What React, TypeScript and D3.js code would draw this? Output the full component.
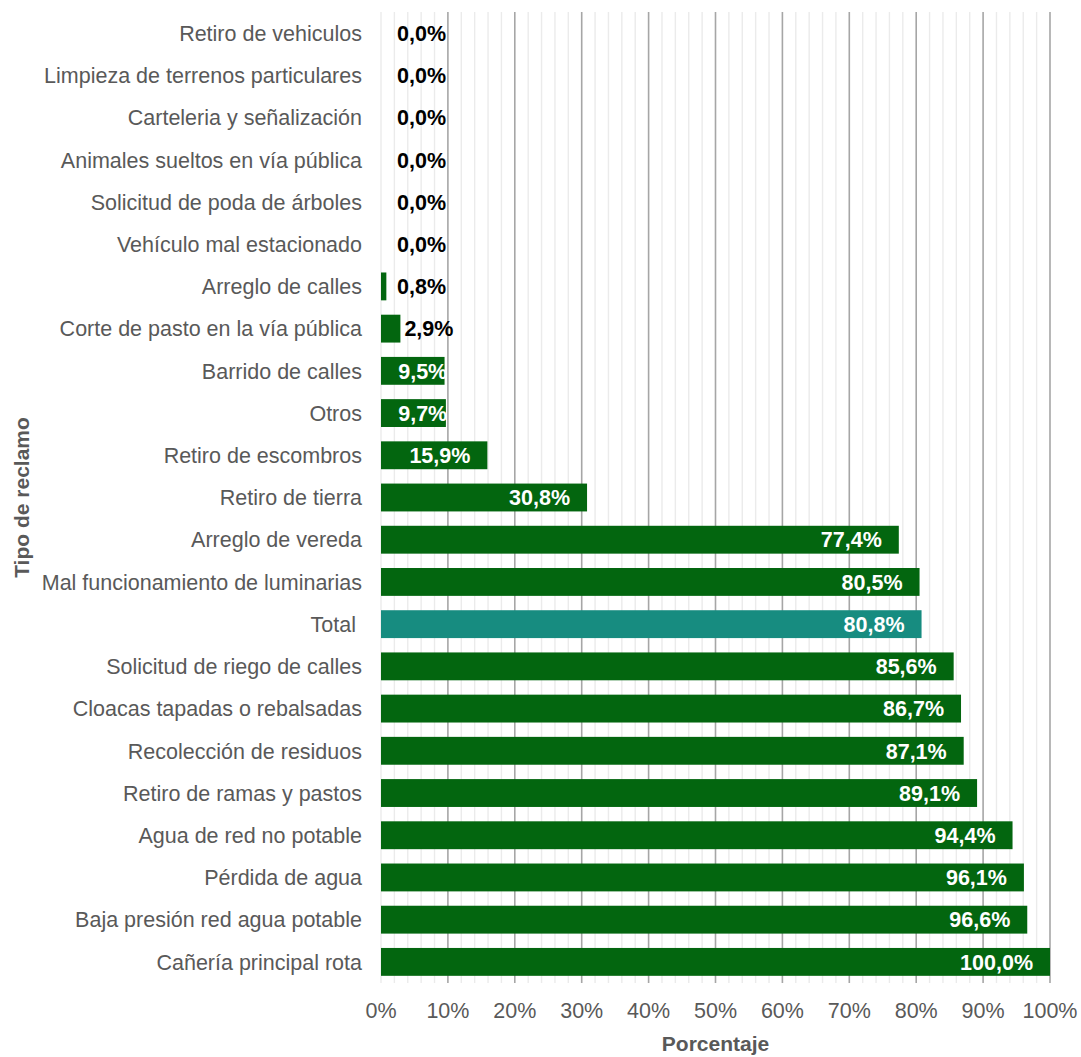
import React from "react";
import * as d3 from "d3";

const categories = [
  "Retiro de vehiculos",
  "Limpieza de terrenos particulares",
  "Carteleria y señalización",
  "Animales sueltos en vía pública",
  "Solicitud de poda de árboles",
  "Vehículo mal estacionado",
  "Arreglo de calles",
  "Corte de pasto en la vía pública",
  "Barrido de calles",
  "Otros",
  "Retiro de escombros",
  "Retiro de tierra",
  "Arreglo de vereda",
  "Mal funcionamiento de luminarias",
  "Total ",
  "Solicitud de riego de calles",
  "Cloacas tapadas o rebalsadas",
  "Recolección de residuos",
  "Retiro de ramas y pastos",
  "Agua de red no potable",
  "Pérdida de agua",
  "Baja presión red agua potable",
  "Cañería principal rota",
];

const values = [
  0.0, 0.0, 0.0, 0.0, 0.0, 0.0, 0.8, 2.9, 9.5, 9.7, 15.9, 30.8, 77.4, 80.5,
  80.8, 85.6, 86.7, 87.1, 89.1, 94.4, 96.1, 96.6, 100.0,
];

const xTicks = [0, 10, 20, 30, 40, 50, 60, 70, 80, 90, 100];
const minorTicks = d3.range(0, 101, 2);

const xTitle = "Porcentaje";
const yTitle = "Tipo de reclamo";

const W = 1081;
const H = 1057;
const M = { left: 381, right: 31, top: 12, bottom: 74 };
const FONT = "'Liberation Sans', Arial, Helvetica, sans-serif";
const GREEN = "#03660f";
const TEAL = "#178c80";
const TEXT = "#595959";

export default function App() {
  const x = d3.scaleLinear().domain([0, 100]).range([M.left, W - M.right]);
  const y = d3
    .scaleBand<string>()
    .domain(categories)
    .range([M.top, H - M.bottom])
    .paddingInner(0.34)
    .paddingOuter(0.17);
  const fmt = (v: number) => v.toFixed(1).replace(".", ",") + "%";
  const x0 = x(0);
  const plotBottom = H - M.bottom;

  return (
    <svg
      width={W}
      height={H}
      style={{ position: "absolute", left: 0, top: 0, background: "#fff" }}
      fontFamily={FONT}
    >
      {/* minor grid */}
      {minorTicks
        .filter((t) => t % 10 !== 0 || t === 0)
        .map((t) => (
          <line
            key={"m" + t}
            x1={x(t)}
            x2={x(t)}
            y1={M.top}
            y2={plotBottom}
            stroke="#ebebeb"
            strokeWidth={1.4}
          />
        ))}
      {/* major grid */}
      {xTicks
        .filter((t) => t !== 0)
        .map((t) => (
          <line
            key={"M" + t}
            x1={x(t)}
            x2={x(t)}
            y1={M.top}
            y2={plotBottom}
            stroke="#a6a6a6"
            strokeWidth={1.6}
          />
        ))}
      {/* bars */}
      {categories.map((c, i) => (
        <rect
          key={"b" + c}
          x={x0}
          y={y(c)!}
          width={x(values[i]) - x0}
          height={y.bandwidth()}
          fill={c.trim() === "Total" ? TEAL : GREEN}
        />
      ))}
      {/* value labels */}
      {categories.map((c, i) => {
        const v = values[i];
        const cy = y(c)! + y.bandwidth() / 2;
        const inside = v >= 5;
        const lx = inside
          ? Math.max(x(v) - 17, x(9.9))
          : Math.max(x(v) + 4, x(0) + 16);
        return (
          <text
            key={"l" + c}
            x={lx}
            y={cy}
            dy="0.36em"
            textAnchor={inside ? "end" : "start"}
            fontWeight="bold"
            fontSize={21.5}
            fill={inside ? "#ffffff" : "#000000"}
          >
            {fmt(v)}
          </text>
        );
      })}
      {/* category labels */}
      {categories.map((c) => (
        <text
          key={"c" + c}
          x={x0 - 19}
          y={y(c)! + y.bandwidth() / 2}
          dy="0.36em"
          textAnchor="end"
          fontSize={21.5}
          fill={TEXT}
          style={{ whiteSpace: "pre" }}
        >
          {c}
        </text>
      ))}
      {/* x tick labels */}
      {xTicks.map((t) => (
        <text
          key={"t" + t}
          x={x(t)}
          y={1018}
          textAnchor="middle"
          fontSize={21.5}
          fill={TEXT}
        >
          {t + "%"}
        </text>
      ))}
      {/* axis titles */}
      <text
        x={(x(0) + x(100)) / 2}
        y={1051}
        textAnchor="middle"
        fontWeight="bold"
        fontSize={21}
        fill={TEXT}
      >
        {xTitle}
      </text>
      <text
        transform={`translate(29, ${(M.top + plotBottom) / 2}) rotate(-90)`}
        textAnchor="middle"
        fontWeight="bold"
        fontSize={21}
        fill={TEXT}
      >
        {yTitle}
      </text>
    </svg>
  );
}
